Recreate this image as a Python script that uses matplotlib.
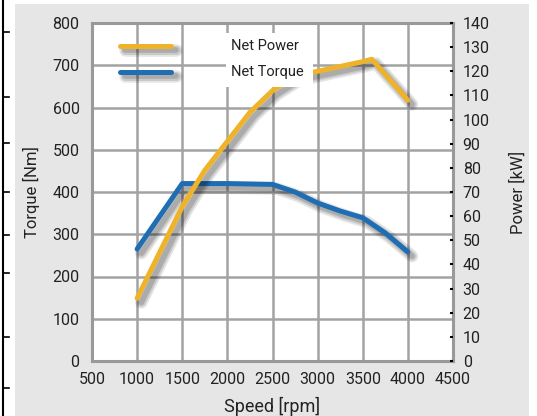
import matplotlib
matplotlib.use("Agg")
import matplotlib.pyplot as plt
import matplotlib.patheffects as pe
from matplotlib import font_manager as fm
from matplotlib.lines import Line2D
from matplotlib.patches import Rectangle

torque_speed = [1000, 1500, 2000, 2500, 2750, 3000, 3250, 3500, 3750, 4000]
torque = [265, 420, 420, 418, 400, 374, 355, 339, 303, 258]

power_speed = [1000, 1500, 1750, 2000, 2250, 2500, 2750, 3000, 3500, 3600, 4000]
power = [26, 64, 79, 91, 103, 112, 118, 120, 124, 125, 108]

speed_ticks = [500, 1000, 1500, 2000, 2500, 3000, 3500, 4000, 4500]
torque_ticks = list(range(0, 801, 100))
power_ticks = list(range(0, 141, 10))

series_labels = ["Net Power", "Net Torque"]

YELLOW = "#EFB32A"
BLUE = "#1F6EB4"
GRID = "#a3a3a3"

# pick a narrow font if available
fam = ['Roboto', 'DejaVu Sans']
for f in fm.fontManager.ttflist:
    if f.name == 'Liberation Sans Narrow':
        fam = ['Liberation Sans Narrow', 'Roboto', 'DejaVu Sans']
        break
plt.rcParams['font.family'] = fam
narrow = fam[0] == 'Liberation Sans Narrow'
TS = 12.5 if narrow else 11.5

fig = plt.figure(figsize=(5.37, 4.16), dpi=100)
fig.patch.set_facecolor("white")

# grey panel
fig.patches.append(Rectangle((15/537, 0), (529-15)/537, 1 - 4/416,
                             transform=fig.transFigure, facecolor="#e6e6e6",
                             edgecolor="none", zorder=-5))
# left black border fragment
fig.add_artist(Line2D([3/537, 3/537], [0, 1], transform=fig.transFigure,
                      color="black", lw=1.5, zorder=-4))
for yy in [32, 97, 143, 192, 235, 273, 337, 388]:
    fig.add_artist(Line2D([3/537, 9/537], [1 - yy/416, 1 - yy/416],
                          transform=fig.transFigure, color="black", lw=1.2, zorder=-4))

ax = fig.add_axes([92/537, 1 - 361/416, (453-92)/537, (361-23)/416])
ax.set_facecolor("white")
ax.set_xlim(500, 4500)
ax.set_ylim(0, 800)
ax.set_xticks(speed_ticks)
ax.set_yticks(torque_ticks)
ax.grid(True, color=GRID, lw=1.8)
ax.set_axisbelow(True)
for s in ax.spines.values():
    s.set_color("#999999")
    s.set_linewidth(2.2)
ax.tick_params(axis='x', length=0, labelsize=TS, colors="#222222", pad=8)
ax.tick_params(axis='y', length=0, labelsize=TS, colors="#222222", pad=9)

ax2 = ax.twinx()
ax2.set_ylim(0, 140)
ax2.set_yticks(power_ticks)
ax2.tick_params(axis='y', direction='in', length=2, width=1.5, color="black",
                labelsize=TS, labelcolor="#222222", pad=7)
for s in ax2.spines.values():
    s.set_visible(False)

shadow = [pe.SimpleLineShadow(offset=(3, -3), shadow_color="black", alpha=0.10, linewidth=9),
          pe.SimpleLineShadow(offset=(3, -3), shadow_color="black", alpha=0.12, linewidth=6.5),
          pe.SimpleLineShadow(offset=(3, -3), shadow_color="black", alpha=0.15, linewidth=4),
          pe.Normal()]

ax.plot(torque_speed, torque, color=BLUE, lw=3.6, solid_capstyle="round",
        solid_joinstyle="round", path_effects=shadow, zorder=5)
ax2.plot(power_speed, power, color=YELLOW, lw=3.6, solid_capstyle="round",
         solid_joinstyle="round", path_effects=shadow, zorder=5)

# legend (drawn on the top axes, using torque-axis data coordinates)
T = ax.transData
lx0, lx1 = 815, 1380
ax2.plot([lx0, lx1], [745, 745], transform=T, color=YELLOW, lw=3.6,
         solid_capstyle="round", path_effects=shadow, zorder=6)
ax2.plot([lx0, lx1], [684, 684], transform=T, color=BLUE, lw=3.6,
         solid_capstyle="round", path_effects=shadow, zorder=6)
ax2.add_patch(Rectangle((1985, 648), 965, 128, transform=T, facecolor="white",
                        edgecolor="none", zorder=7))
ax2.text(2040, 745, series_labels[0], transform=T, fontsize=10.5, va="center",
         ha="left", color="#222222", zorder=8)
ax2.text(2040, 684, series_labels[1], transform=T, fontsize=10.5, va="center",
         ha="left", color="#222222", zorder=8)

ax.set_xlabel("Speed [rpm]", fontsize=13, color="#222222", labelpad=7)
ax.set_ylabel("Torque [Nm]", fontsize=12, color="#222222", labelpad=9)
ax2.set_ylabel("Power [kW]", fontsize=12, color="#222222", labelpad=14)

fig.savefig("out.png", dpi=100)
